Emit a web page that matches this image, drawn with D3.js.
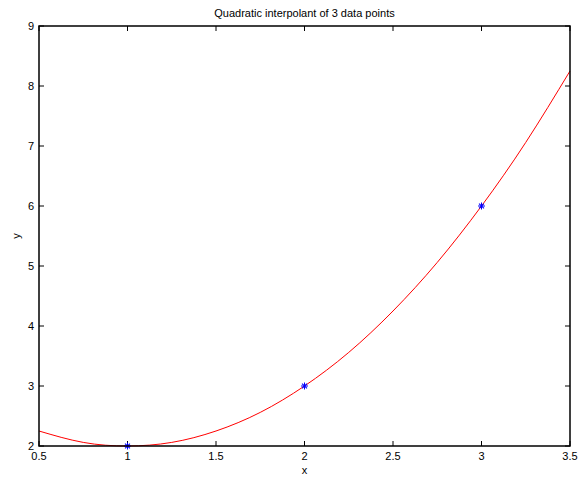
<!DOCTYPE html>
<html>
<head>
<meta charset="utf-8">
<script src="https://cdn.jsdelivr.net/npm/d3@7"></script>
<style>
  body { margin: 0; background: #fff; }
  text { font-family: "Liberation Sans", Arial, sans-serif; font-size: 11px; fill: #000; }
</style>
</head>
<body>
<svg id="chart" width="581" height="483"></svg>
<script>
// data points
var pointX = [1, 2, 3];
var pointY = [2, 3, 6];

// curve
var curveX = [0.5, 0.75, 1, 1.25, 1.5, 1.75, 2, 2.25, 2.5, 2.75, 3, 3.25, 3.5];
var curveY = [2.25, 2.06, 2, 2.06, 2.25, 2.56, 3, 3.56, 4.25, 5.06, 6, 7.06, 8.25];

var xTicks = [0.5, 1, 1.5, 2, 2.5, 3, 3.5];
var yTicks = [2, 3, 4, 5, 6, 7, 8, 9];

var svg = d3.select('#chart');
var plotL = 39, plotR = 570, plotT = 26, plotB = 446;

var x = d3.scaleLinear().domain([0.5, 3.5]).range([plotL, plotR]);
var y = d3.scaleLinear().domain([2, 9]).range([plotB, plotT]);

var g = svg.append('g');

// ticks (inside, on all four sides)
var tickLen = 5;
xTicks.forEach(function(t) {
    g.append('line').attr('x1', x(t)).attr('x2', x(t)).attr('y1', plotB).attr('y2', plotB - tickLen)
        .attr('stroke', '#000');
    g.append('line').attr('x1', x(t)).attr('x2', x(t)).attr('y1', plotT).attr('y2', plotT + tickLen)
        .attr('stroke', '#000');
    g.append('text').attr('x', x(t)).attr('y', plotB + 14).attr('text-anchor', 'middle').text(t);
});
yTicks.forEach(function(t) {
    g.append('line').attr('x1', plotL).attr('x2', plotL + tickLen).attr('y1', y(t)).attr('y2', y(t))
        .attr('stroke', '#000');
    g.append('line').attr('x1', plotR).attr('x2', plotR - tickLen).attr('y1', y(t)).attr('y2', y(t))
        .attr('stroke', '#000');
    g.append('text').attr('x', plotL - 5).attr('y', y(t) + 4).attr('text-anchor', 'end').text(t);
});

// curve
var line = d3.line()
    .x(function(d, i) { return x(curveX[i]); })
    .y(function(d) { return y(d); })
    .curve(d3.curveNatural);

g.append('path')
    .datum(curveY)
    .attr('d', line)
    .attr('fill', 'none')
    .attr('stroke', '#ff0000')
    .attr('stroke-width', 1);

// asterisk markers
var r = 3.5;
var star = g.selectAll('.pt').data(pointX).enter().append('g')
    .attr('class', 'pt')
    .attr('transform', function(d, i) { return 'translate(' + x(d) + ',' + y(pointY[i]) + ')'; });
[0, 45, 90, 135].forEach(function(a) {
    star.append('line')
        .attr('x1', -r).attr('x2', r).attr('y1', 0).attr('y2', 0)
        .attr('transform', 'rotate(' + a + ')')
        .attr('stroke', '#0000ff').attr('stroke-width', 1);
});

// box
g.append('rect').attr('x', plotL).attr('y', plotT).attr('width', plotR - plotL).attr('height', plotB - plotT)
    .attr('fill', 'none').attr('stroke', '#000').attr('stroke-width', 1.5);

// labels
svg.append('text').attr('x', (plotL + plotR) / 2).attr('y', 17).attr('text-anchor', 'middle')
    .text('Quadratic interpolant of 3 data points');
svg.append('text').attr('x', (plotL + plotR) / 2).attr('y', 474).attr('text-anchor', 'middle').text('x');
svg.append('text').attr('transform', 'translate(20,' + ((plotT + plotB) / 2) + ') rotate(-90)')
    .attr('text-anchor', 'middle').text('y');
</script>
</body>
</html>
